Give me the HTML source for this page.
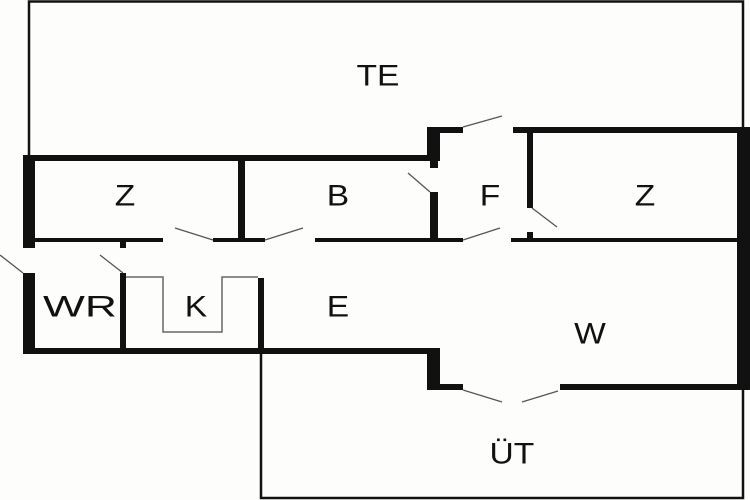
<!DOCTYPE html>
<html><head><style>
body{margin:0;background:#fdfdfb;}
svg{display:block}
text{font-family:"Liberation Sans",sans-serif;font-size:30px;fill:#111;text-anchor:middle;dominant-baseline:central}
</style></head><body>
<svg width="750" height="500" viewBox="0 0 750 500">
<rect width="750" height="500" fill="#fdfdfb"/>
<g fill="none" stroke="#111" stroke-width="2.5">
<path d="M29 160 V1.5 H743 V128"/>
<path d="M261 350 V498 H743 V388"/>
</g>
<g fill="#111">
<rect x="23" y="155" width="417" height="6"/>
<rect x="23" y="155" width="12" height="93"/>
<rect x="23" y="273" width="12" height="81"/>
<rect x="23" y="348" width="417" height="6"/>
<rect x="238" y="155" width="7" height="86"/>
<rect x="23" y="238" width="140" height="4"/>
<rect x="213" y="238" width="52" height="4"/>
<rect x="315" y="238" width="148" height="4"/>
<rect x="511" y="238" width="228" height="4"/>
<rect x="120" y="238" width="6" height="10"/>
<rect x="120" y="273" width="6" height="81"/>
<rect x="258" y="278" width="6" height="76"/>
<rect x="427" y="127" width="13" height="34"/>
<rect x="427" y="127" width="36" height="6"/>
<rect x="513" y="127" width="237" height="6"/>
<rect x="430" y="160" width="8" height="8"/>
<rect x="430" y="192" width="8" height="50"/>
<rect x="527" y="127" width="6" height="81"/>
<rect x="527" y="232" width="6" height="10"/>
<rect x="737" y="127" width="13" height="263"/>
<rect x="427" y="348" width="13" height="42"/>
<rect x="427" y="384" width="36" height="6"/>
<rect x="560" y="384" width="190" height="6"/>
</g>
<path d="M126 277 H163 V332 H222 V277 H258" fill="none" stroke="#666" stroke-width="1.5"/>
<g stroke="#555" stroke-width="1.3">
<line x1="0" y1="255" x2="23" y2="273"/>
<line x1="100" y1="255" x2="123" y2="273"/>
<line x1="175" y1="228" x2="213" y2="240"/>
<line x1="303" y1="228" x2="265" y2="240"/>
<line x1="408" y1="173" x2="430" y2="192"/>
<line x1="532" y1="208" x2="557" y2="227"/>
<line x1="463" y1="240" x2="500" y2="228"/>
<line x1="463" y1="127" x2="502" y2="116"/>
<line x1="463" y1="390" x2="502" y2="402"/>
<line x1="522" y1="402" x2="558" y2="391"/>
</g>
<g transform="scale(1.12,1)">
<text x="337.5" y="75">TE</text>
<text x="111.6" y="195">Z</text>
<text x="301.8" y="195">B</text>
<text x="437.5" y="195">F</text>
<text x="575.9" y="195">Z</text>
<text x="71.4" y="306" textLength="66" lengthAdjust="spacingAndGlyphs">WR</text>
<text x="175" y="306">K</text>
<text x="301.8" y="306">E</text>
<text x="526.8" y="333">W</text>
<text x="457.1" y="453">ÜT</text>
</g>
</svg>
</body></html>
